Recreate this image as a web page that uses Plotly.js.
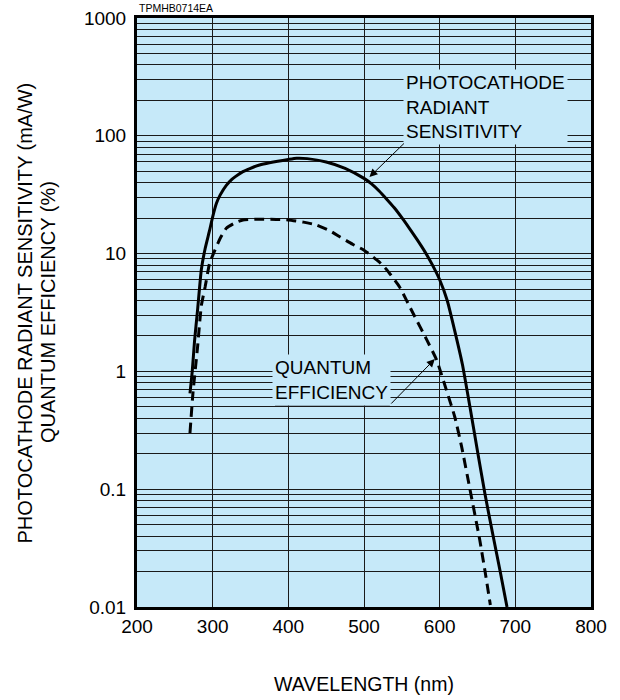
<!DOCTYPE html>
<html>
<head>
<meta charset="utf-8">
<script src="https://cdn.plot.ly/plotly-3.0.1.min.js"></script>
<style>html,body{margin:0;padding:0;background:#fff;}#chart{width:620px;height:700px;}</style>
</head>
<body>
<div id="chart"></div>
<script>
// Photocathode radiant sensitivity (mA/W)
const sensWavelength = [270, 273, 276, 280, 285, 290, 296, 300, 305, 310, 318, 325, 330, 340, 350, 362, 375, 400, 411, 425, 450, 475, 500, 510, 520, 530, 540, 550, 560, 570, 580, 590, 600, 610, 620, 630, 640, 650, 660, 670, 680, 689];
const sensValues     = [0.65, 1.0, 1.8, 3.3, 7.3, 11, 15.8, 20.5, 26.7, 31.5, 38, 42.5, 45, 49.6, 53, 56.5, 59, 63, 64.5, 64, 60, 53, 43.5, 39, 34, 29, 24.5, 20.2, 16.4, 13.2, 10.5, 8.1, 6, 4, 2.2, 1.15, 0.5, 0.21, 0.09, 0.042, 0.02, 0.01];
// Quantum efficiency (%)
const qeWavelength = [270, 274, 280, 285, 290, 296, 303, 310, 318, 330, 340, 360, 384, 400, 420, 437, 455, 468, 485, 500, 520, 530, 547, 565, 583, 596, 609, 620, 629, 640, 653, 660, 667];
const qeValues     = [0.30, 0.66, 1.6, 3.6, 5.2, 8.3, 10.7, 13.5, 16.4, 18.3, 19.3, 19.6, 19.5, 19.3, 18.5, 17.5, 15.6, 13.9, 12, 10.7, 8.5, 7.3, 5.2, 3.1, 1.85, 1.25, 0.69, 0.41, 0.23, 0.1, 0.037, 0.02, 0.0104];
const xTickVals = [200, 300, 400, 500, 600, 700, 800];
const yTickVals = [0.01, 0.1, 1, 10, 100, 1000];
const yTickText = ['0.01', '0.1', '1', '10', '100', '1000'];
const yTitleLines = ['PHOTOCATHODE RADIANT SENSITIVITY (mA/W)', 'QUANTUM EFFICIENCY (%)'];

const FONT = 'Liberation Sans, Arial, Helvetica, sans-serif';
const BG = '#c6e9f9';
const GRID = '#1a1a1a';

const traces = [
  {x: sensWavelength, y: sensValues, type: 'scatter', mode: 'lines',
   line: {color: '#000', width: 3, shape: 'spline', smoothing: 0.5}, hoverinfo: 'skip', name: 'Radiant sensitivity'},
  {x: qeWavelength, y: qeValues, type: 'scatter', mode: 'lines',
   line: {color: '#000', width: 3, dash: '10px,6px', shape: 'spline', smoothing: 0.5}, hoverinfo: 'skip', name: 'Quantum efficiency'}
];

const layout = {
  width: 620, height: 700,
  margin: {l: 137, r: 29, t: 18, b: 93},
  paper_bgcolor: '#fff', plot_bgcolor: BG,
  showlegend: false,
  font: {family: FONT, color: '#000', size: 19},
  xaxis: {
    range: [200, 800], tickvals: xTickVals, ticks: '', showgrid: true,
    gridcolor: GRID, gridwidth: 1, zeroline: false,
    showline: true, linecolor: '#000', linewidth: 3, mirror: true,
    tickfont: {family: FONT, size: 19, color: '#000'},
    title: {text: 'WAVELENGTH (nm)', font: {family: FONT, size: 19.5, color: '#000'}, standoff: 42}
  },
  yaxis: {
    type: 'log', range: [-2, 3], tickvals: yTickVals, ticktext: yTickText, ticks: '',
    ticklabelstandoff: 4,
    showgrid: true, gridcolor: GRID, gridwidth: 1, zeroline: false,
    minor: {dtick: 'D1', showgrid: true, gridcolor: GRID, gridwidth: 1, ticks: ''},
    showline: true, linecolor: '#000', linewidth: 3, mirror: true,
    tickfont: {family: FONT, size: 19, color: '#000'}
  },
  shapes: [
    {type: 'line', xref: 'paper', yref: 'paper', x0: 0.590, x1: 0.947, y0: 0.7895, y1: 0.7895, line: {color: '#000', width: 1}},
    {type: 'line', xref: 'paper', yref: 'paper', x0: 0.304, x1: 0.557, y0: 0.343, y1: 0.343, line: {color: '#000', width: 1}}
  ],
  annotations: [
    {xref: 'paper', yref: 'paper', x: -0.2467, y: 0.5, xanchor: 'center', yanchor: 'middle', textangle: -90, showarrow: false,
     text: yTitleLines[0], font: {family: FONT, size: 20, color: '#000'}},
    {xref: 'paper', yref: 'paper', x: -0.1971, y: 0.5, xanchor: 'center', yanchor: 'middle', textangle: -90, showarrow: false,
     text: yTitleLines[1], font: {family: FONT, size: 20, color: '#000'}},
    {xref: 'paper', yref: 'paper', x: 0, y: 1.003, xanchor: 'left', yanchor: 'bottom', showarrow: false,
     text: 'TPMHB0714EA', font: {family: FONT, size: 10.5, color: '#000'}},
    {xref: 'paper', yref: 'paper', x: 0.586, y: 0.849, xanchor: 'left', yanchor: 'middle', align: 'left', showarrow: false,
     text: 'PHOTOCATHODE<br>RADIANT<br>SENSITIVITY', bgcolor: BG, borderpad: 2,
     font: {family: FONT, size: 19, color: '#000'}},
    {xref: 'paper', yref: 'paper', x: 0.298, y: 0.385, xanchor: 'left', yanchor: 'middle', align: 'left', showarrow: false,
     text: 'QUANTUM<br>EFFICIENCY', bgcolor: BG, borderpad: 2,
     font: {family: FONT, size: 19, color: '#000'}},
    {xref: 'paper', yref: 'paper', x: 0.512, y: 0.730, text: '', showarrow: true,
     arrowhead: 2, arrowsize: 1.6, arrowwidth: 1, arrowcolor: '#000', ax: 36, ay: -35, standoff: 0},
    {xref: 'paper', yref: 'paper', x: 0.656, y: 0.421, text: '', showarrow: true,
     arrowhead: 2, arrowsize: 1.6, arrowwidth: 1, arrowcolor: '#000', ax: -45, ay: 46, standoff: 0}
  ]
};

Plotly.newPlot('chart', traces, layout, {staticPlot: true, displayModeBar: false});
</script>
</body>
</html>
